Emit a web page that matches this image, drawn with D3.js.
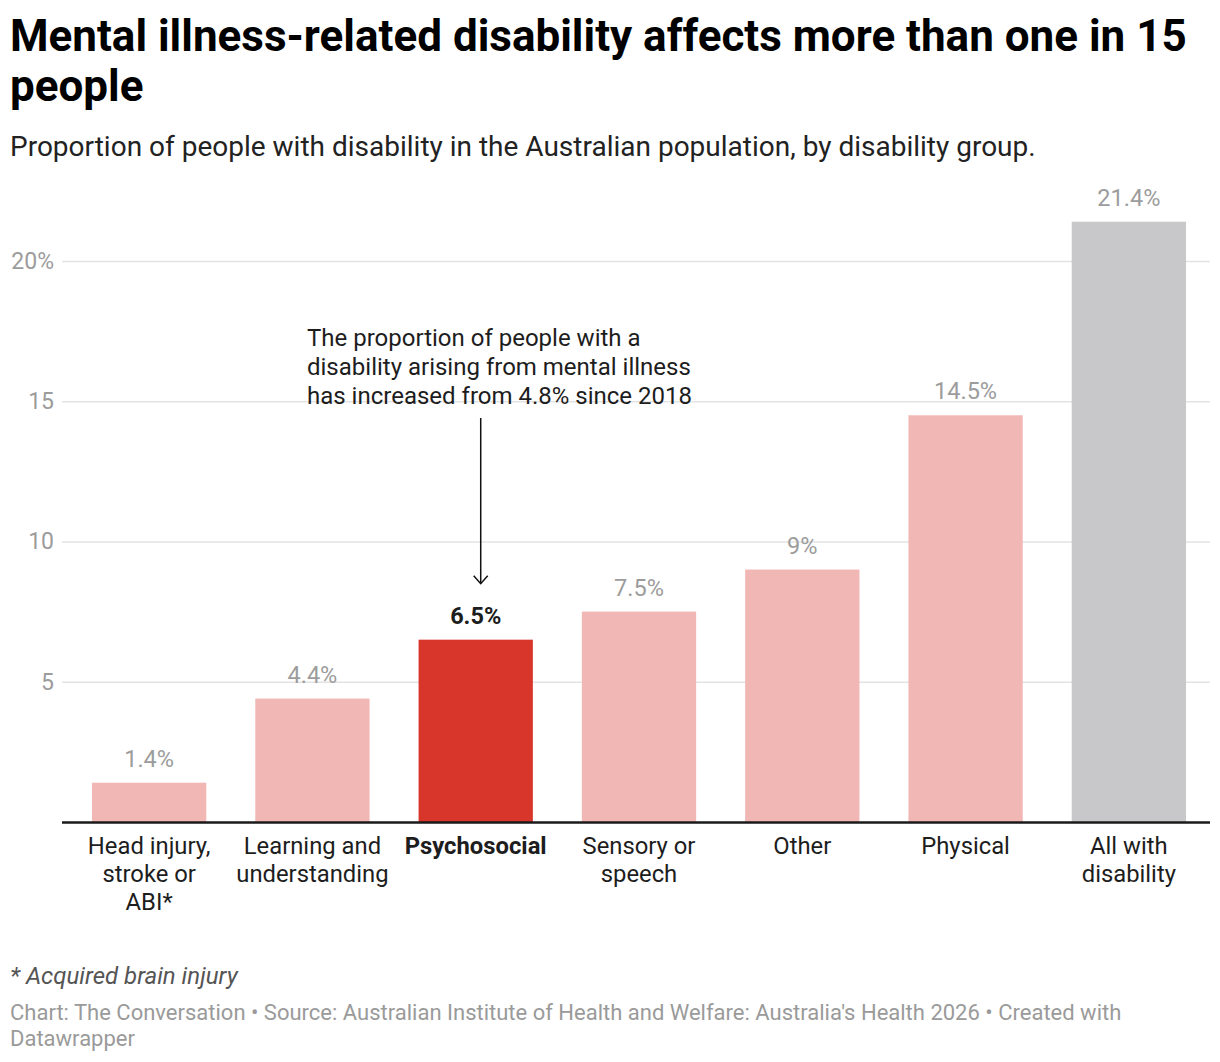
<!DOCTYPE html>
<html>
<head>
<meta charset="utf-8">
<script src="https://cdn.jsdelivr.net/npm/d3@7"></script>
<style>
  html, body { margin: 0; padding: 0; background: #fff; }
  svg { display: block; font-family: Roboto, "Noto Sans", sans-serif; }
</style>
</head>
<body>
<svg id="chart"></svg>
<script>
// data
var categories = ["Head injury,\nstroke or\nABI*", "Learning and\nunderstanding", "Psychosocial",
    "Sensory or\nspeech", "Other", "Physical", "All with\ndisability"];
var values = [1.4, 4.4, 6.5, 7.5, 9, 14.5, 21.4];
var valueLabels = ["1.4%", "4.4%", "6.5%", "7.5%", "9%", "14.5%", "21.4%"];
var yTicks = [5, 10, 15, 20];
var yTickLabels = ["5", "10", "15", "20%"];

var w = 1220, h = 1062;
var highlight = "Psychosocial",
    total = "All with\ndisability";

var colors = {
    bar: "#f1b7b4",
    highlight: "#d8352b",
    total: "#c8c8ca",
    grid: "#e3e3e3",
    tick: "#9c9c9c",
    text: "#1d1d1d"
};

var svg = d3.select("#chart").attr("width", w).attr("height", h);

// header
var title = svg.append("text")
    .attr("x", 10)
    .attr("font-size", "44px")
    .attr("font-weight", "bold")
    .attr("fill", "#000");
title.append("tspan").attr("x", 10).attr("y", 51)
    .text("Mental illness-related disability affects more than one in 15");
title.append("tspan").attr("x", 10).attr("y", 101).text("people");

svg.append("text")
    .attr("x", 10).attr("y", 156)
    .attr("font-size", "28px")
    .attr("fill", "#222")
    .text("Proportion of people with disability in the Australian population, by disability group.");

// scales
var x = d3.scaleBand()
    .domain(categories)
    .range([67.5, 1210.5])
    .paddingInner(0.3)
    .paddingOuter(0.15);

var y = d3.scaleLinear()
    .domain([0, 20])
    .range([822, 261]);

// grid + y axis
var yAxis = d3.axisLeft(y)
    .tickValues(yTicks)
    .tickSize(-(1210 - 62))
    .tickPadding(8)
    .tickFormat(function(d, i) { return yTickLabels[i]; });

var gy = svg.append("g")
    .attr("transform", "translate(62,0)")
    .call(yAxis);
gy.select(".domain").remove();
gy.selectAll(".tick line").attr("stroke", colors.grid).attr("stroke-width", 1.6);
gy.selectAll(".tick text")
    .attr("x", -8)
    .attr("fill", colors.tick)
    .attr("font-size", "23px")
    .attr("font-family", "Roboto, sans-serif");

// bars
svg.append("g").selectAll("rect")
    .data(categories)
    .join("rect")
    .attr("x", function(d) { return x(d); })
    .attr("y", function(d, i) { return y(values[i]); })
    .attr("width", x.bandwidth())
    .attr("height", function(d, i) { return y(0) - y(values[i]); })
    .attr("fill", function(d) {
        if (d === highlight) return colors.highlight;
        if (d === total) return colors.total;
        return colors.bar;
    });

// value labels
svg.append("g").selectAll("text")
    .data(categories)
    .join("text")
    .attr("x", function(d) { return x(d) + x.bandwidth() / 2; })
    .attr("y", function(d, i) { return y(values[i]) - 16; })
    .attr("text-anchor", "middle")
    .attr("font-size", "23.5px")
    .attr("font-weight", function(d) { return d === highlight ? "bold" : null; })
    .attr("fill", function(d) { return d === highlight ? colors.text : colors.tick; })
    .text(function(d, i) { return valueLabels[i]; });

// baseline
svg.append("line")
    .attr("x1", 62).attr("x2", 1210)
    .attr("y1", y(0) + 0.5).attr("y2", y(0) + 0.5)
    .attr("stroke", "#1a1a1a")
    .attr("stroke-width", 2.4);

// category labels
var cat = svg.append("g").selectAll("text")
    .data(categories)
    .join("text")
    .attr("text-anchor", "middle")
    .attr("font-size", "23.8px")
    .attr("font-weight", function(d) { return d === highlight ? "bold" : null; })
    .attr("fill", colors.text);
cat.each(function(d) {
    var t = d3.select(this),
        cx = x(d) + x.bandwidth() / 2;
    d.split("\n").forEach(function(line, k) {
        t.append("tspan").attr("x", cx).attr("y", 854 + k * 28).text(line);
    });
});

// annotation
var note = svg.append("text")
    .attr("font-size", "24px")
    .attr("fill", colors.text);
["The proportion of people with a",
 "disability arising from mental illness",
 "has increased from 4.8% since 2018"].forEach(function(line, k) {
    note.append("tspan").attr("x", 307).attr("y", 346 + k * 29).text(line);
});

var ax = x(highlight) + x.bandwidth() / 2 + 5;
svg.append("line")
    .attr("x1", ax).attr("x2", ax)
    .attr("y1", 418).attr("y2", y(6.5) - 56)
    .attr("stroke", "#111").attr("stroke-width", 1.5);
svg.append("path")
    .attr("d", "M" + (ax - 7) + "," + (y(6.5) - 64) + "L" + ax + "," + (y(6.5) - 56) + "L" + (ax + 7) + "," + (y(6.5) - 64))
    .attr("fill", "none")
    .attr("stroke", "#111")
    .attr("stroke-width", 1.5);

// footnotes
svg.append("text")
    .attr("x", 10).attr("y", 984)
    .attr("font-size", "24px")
    .attr("font-style", "italic")
    .attr("fill", "#555")
    .text("* Acquired brain injury");

var foot = svg.append("text")
    .attr("font-size", "22px")
    .attr("fill", "#9a9a9a");
foot.append("tspan").attr("x", 10).attr("y", 1020)
    .text("Chart: The Conversation \u2022 Source: Australian Institute of Health and Welfare: Australia's Health 2026 \u2022 Created with");
foot.append("tspan").attr("x", 10).attr("y", 1046).text("Datawrapper");
</script>
</body>
</html>
